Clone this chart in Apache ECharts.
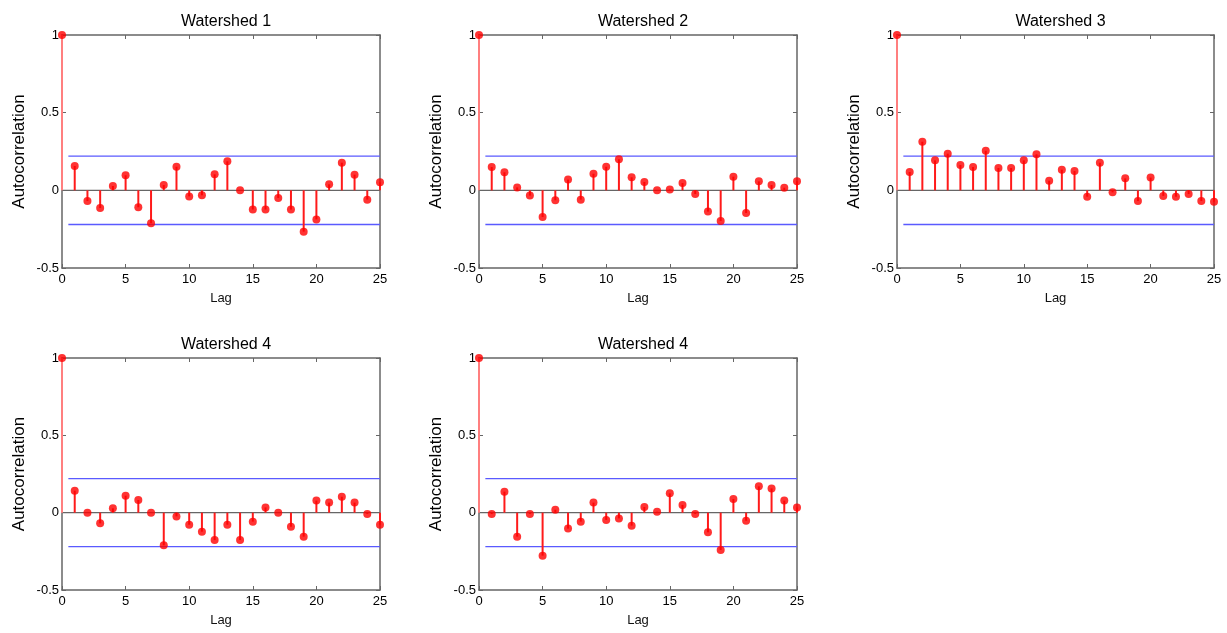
<!DOCTYPE html>
<html>
<head>
<meta charset="utf-8">
<script src="https://cdn.jsdelivr.net/npm/echarts@6/dist/echarts.min.js"></script>
<style>
html,body{margin:0;padding:0;background:#fff;}
#chart{width:1227px;height:633px;}
</style>
</head>
<body>
<div id="chart"></div>
<script>
const lags = [0,1,2,3,4,5,6,7,8,9,10,11,12,13,14,15,16,17,18,19,20,21,22,23,24,25];
const titles = ['Watershed 1','Watershed 2','Watershed 3','Watershed 4','Watershed 4'];
const acf1 = [1,0.157,-0.069,-0.114,0.028,0.097,-0.109,-0.212,0.034,0.152,-0.039,-0.032,0.103,0.187,0.0,-0.124,-0.124,-0.049,-0.124,-0.266,-0.187,0.039,0.178,0.101,-0.060,0.052];
const acf2 = [1,0.150,0.116,0.019,-0.034,-0.172,-0.064,0.069,-0.060,0.107,0.152,0.200,0.084,0.054,0.0,0.006,0.047,-0.024,-0.137,-0.197,0.088,-0.146,0.058,0.034,0.017,0.058];
const acf3 = [1,0.118,0.313,0.193,0.236,0.163,0.150,0.255,0.144,0.144,0.193,0.232,0.062,0.133,0.124,-0.041,0.178,-0.013,0.077,-0.069,0.082,-0.036,-0.041,-0.024,-0.069,-0.073];
const acf4 = [1,0.142,0.0,-0.069,0.028,0.110,0.082,0.0,-0.211,-0.024,-0.078,-0.123,-0.177,-0.078,-0.177,-0.058,0.034,0.0,-0.091,-0.155,0.078,0.065,0.103,0.065,-0.009,-0.078];
const acf5 = [1,-0.009,0.136,-0.155,-0.009,-0.278,0.019,-0.103,-0.058,0.065,-0.047,-0.037,-0.084,0.037,0.006,0.125,0.050,-0.009,-0.127,-0.241,0.088,-0.052,0.170,0.157,0.078,0.034];
const confBound = [0.22, 0.22, 0.22, 0.22, 0.22];
const boundStartLag = 0.5;
const xTicks = {min: 0, max: 25, interval: 5};
const yTicks = {min: -0.5, max: 1, interval: 0.5};

const allAcf = [acf1, acf2, acf3, acf4, acf5];
const gridPos = [
  {left: 62, top: 35, width: 318, height: 233},
  {left: 479, top: 35, width: 318, height: 233},
  {left: 897, top: 35, width: 317, height: 233},
  {left: 62, top: 358, width: 318, height: 232},
  {left: 479, top: 358, width: 318, height: 232}
];

const axisColor = '#666';
const fontFam = 'Liberation Sans, Arial, sans-serif';
const labelFont = {color: '#000', fontSize: 13, fontFamily: fontFam};
const grids = [], xAxes = [], yAxes = [], series = [], titleOpts = [];

gridPos.forEach((g, i) => {
  grids.push(Object.assign({containLabel: false}, g));
  titleOpts.push({
    text: titles[i],
    left: g.left + g.width / 2,
    top: g.top - 26,
    textAlign: 'center',
    textStyle: {fontSize: 16, fontWeight: 'normal', color: '#000', fontFamily: fontFam}
  });
  const tick = {show: true, inside: true, length: 4, lineStyle: {color: axisColor, width: 1}};
  const aLine = {show: true, onZero: false, lineStyle: {color: axisColor, width: 1.5}};
  xAxes.push({
    type: 'value', gridIndex: i, position: 'bottom',
    min: xTicks.min, max: xTicks.max, interval: xTicks.interval,
    axisLine: aLine, axisTick: tick, splitLine: {show: false},
    axisLabel: Object.assign({margin: 5}, labelFont),
    name: 'Lag', nameLocation: 'middle', nameGap: 24,
    nameTextStyle: {fontSize: 13, color: '#111', fontFamily: fontFam}
  });
  xAxes.push({
    type: 'value', gridIndex: i, position: 'top',
    min: xTicks.min, max: xTicks.max, interval: xTicks.interval,
    axisLine: aLine, axisTick: tick, splitLine: {show: false},
    axisLabel: {show: false}
  });
  yAxes.push({
    type: 'value', gridIndex: i, position: 'left',
    min: yTicks.min, max: yTicks.max, interval: yTicks.interval,
    axisLine: aLine, axisTick: tick, splitLine: {show: false},
    axisLabel: Object.assign({margin: 3}, labelFont),
    name: 'Autocorrelation', nameLocation: 'middle', nameGap: 34, nameRotate: 90,
    nameTextStyle: {fontSize: 17, color: '#000', fontFamily: fontFam}
  });
  yAxes.push({
    type: 'value', gridIndex: i, position: 'right',
    min: yTicks.min, max: yTicks.max, interval: yTicks.interval,
    axisLine: aLine, axisTick: tick, splitLine: {show: false},
    axisLabel: {show: false}
  });
  const xi = i * 2, yi = i * 2;
  const acf = allAcf[i];
  const b = confBound[i];
  series.push({
    type: 'line', xAxisIndex: xi, yAxisIndex: yi, symbol: 'none', silent: true, z: 1,
    lineStyle: {color: axisColor, width: 1.3},
    data: [[xTicks.min, 0], [xTicks.max, 0]]
  });
  series.push({
    type: 'line', xAxisIndex: xi, yAxisIndex: yi, symbol: 'none', silent: true, z: 1,
    lineStyle: {color: '#5a5aff', width: 1.3},
    data: [[boundStartLag, b], [xTicks.max, b]]
  });
  series.push({
    type: 'line', xAxisIndex: xi, yAxisIndex: yi, symbol: 'none', silent: true, z: 1,
    lineStyle: {color: '#5a5aff', width: 1.3},
    data: [[boundStartLag, -b], [xTicks.max, -b]]
  });
  series.push({
    type: 'bar', xAxisIndex: xi, yAxisIndex: yi, barWidth: 2, silent: true, z: 3,
    itemStyle: {color: '#ff1a1a'},
    data: lags.map((l, k) => k === 0
      ? {value: [l, acf[k]], itemStyle: {color: '#ff7f7f'}}
      : [l, acf[k]])
  });
  series.push({
    type: 'scatter', xAxisIndex: xi, yAxisIndex: yi, symbol: 'circle', symbolSize: 8, silent: true, z: 4,
    itemStyle: {color: '#ff0000'},
    data: lags.map((l, k) => [l, acf[k]])
  });
});

const chart = echarts.init(document.getElementById('chart'), null, {renderer: 'canvas'});
chart.setOption({
  animation: false,
  backgroundColor: '#fff',
  title: titleOpts,
  grid: grids,
  xAxis: xAxes,
  yAxis: yAxes,
  series: series
});
</script>
</body>
</html>
